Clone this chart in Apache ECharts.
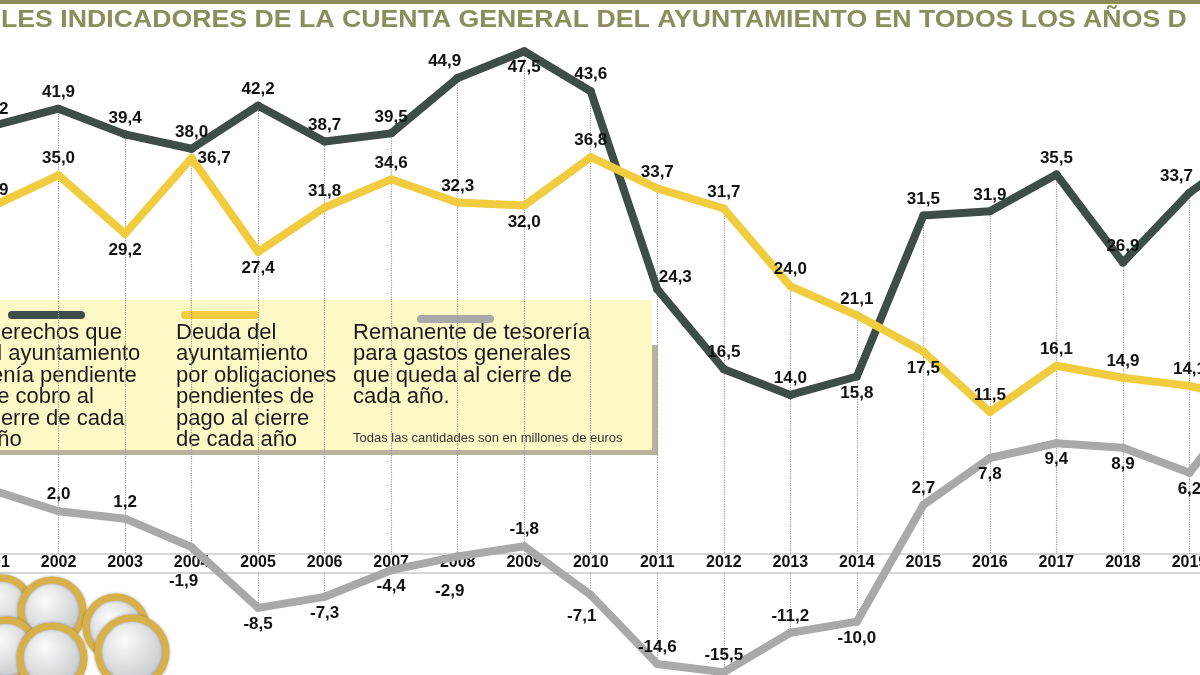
<!DOCTYPE html>
<html>
<head>
<meta charset="utf-8">
<script src="https://cdn.jsdelivr.net/npm/echarts@6/dist/echarts.min.js"></script>
<style>
  html, body { margin: 0; padding: 0; background: #fff; overflow: hidden; width: 1200px; height: 675px; }
  /* the picture is a crop: 2001 sits just left of the frame and 2020 just right of it */
  #chart { position: absolute; left: -8px; top: 0; width: 1264px; height: 675px; }
</style>
</head>
<body>
<div id="chart"></div>
<script>
// Data (millones de euros). 2001 and 2020 sit at the cropped edges.
const years = ["2001", "2002", "2003", "2004", "2005", "2006", "2007", "2008", "2009", "2010",
  "2011", "2012", "2013", "2014", "2015", "2016", "2017", "2018", "2019", "2020"];
const derechos = [40.2, 41.9, 39.4, 38.0, 42.2, 38.7, 39.5, 44.9, 47.5, 43.6,
  24.3, 16.5, 14.0, 15.8, 31.5, 31.9, 35.5, 26.9, 33.7, 38.5];
const deuda = [31.9, 35.0, 29.2, 36.7, 27.4, 31.8, 34.6, 32.3, 32.0, 36.8,
  33.7, 31.7, 24.0, 21.1, 17.5, 11.5, 16.1, 14.9, 14.1, 12.5];
const remanente = [4.3, 2.0, 1.2, -1.9, -8.5, -7.3, -4.4, -2.9, -1.8, -7.1,
  -14.6, -15.5, -11.2, -10.0, 2.7, 7.8, 9.4, 8.9, 6.2, 15.5];

// Where each value label sits relative to its point
const derechosLabels = ["t", "t", "t", "t", "t", "t", "t", "tl", "b", "t", "tr", "t", "t", "b", "t", "t", "t", "t", "tl", "t"];
const deudaLabels = ["t", "t", "b", "r", "b", "t", "t", "t", "b", "t", "t", "t", "t", "t", "b", "t", "t", "t", "t", "t"];
const remanenteLabels = ["l", "t", "t", "bb", "b", "b", "b", "bb", "t", "bl", "t", "t", "t", "b", "t", "b", "b", "b", "b", "t"];

const legendTexts = [
  "Derechos que\nel ayuntamiento\ntenía pendiente\nde cobro al\ncierre de cada\naño",
  "Deuda del\nayuntamiento\npor obligaciones\npendientes de\npago al cierre\nde cada año",
  "Remanente de tesorería\npara gastos generales\nque queda al cierre de\ncada año.",
];
const footnote = "Todas las cantidades son en millones de euros";
const title = "LES INDICADORES DE LA CUENTA GENERAL DEL AYUNTAMIENTO EN TODOS LOS AÑOS D";

const COLORS = { derechos: "#3e4d49", deuda: "#f0cc3e", remanente: "#a9a9a9" };
const OLIVE = "#8b8d5b";
const BAND_TOP = 554;
const BAND_H = 19;
const PAGE_SHIFT = 8; // chart div starts 8px left of the page
const FONT = "'Liberation Sans', Arial, sans-serif";

const chart = echarts.init(document.getElementById("chart"), null, { renderer: "canvas" });

function labelFor(code) {
  const base = { show: true, distance: 4 };
  switch (code) {
    case "b": return { ...base, position: "bottom" };
    case "bb": return { ...base, position: "bottom", offset: [-8, 18] };
    case "r": return { ...base, position: "right", distance: 2 };
    case "l": return { ...base, position: "left" };
    case "tl": return { ...base, position: "top", offset: [-13, 0] };
    case "tr": return { ...base, position: "top", offset: [18, 5] };
    case "bl": return { ...base, position: "bottom", offset: [-9, 5] };
    default: return { ...base, position: "top" };
  }
}

function lineSeries(name, values, labels, color, yAxisIndex, z) {
  return {
    name,
    type: "line",
    xAxisIndex: 0,
    yAxisIndex,
    z,
    data: values.map((v, i) => ({ value: v, label: labelFor(labels[i]) })),
    symbol: "circle",
    symbolSize: 8,
    showAllSymbol: true,
    itemStyle: { color },
    lineStyle: { color, width: 8, join: "round", cap: "round" },
    label: {
      color: "#111",
      fontFamily: FONT,
      fontWeight: "bold",
      fontSize: 17,
      formatter: (p) => p.value.toFixed(1).replace(".", ","),
    },
  };
}

function coin(cx, cy, r) {
  return {
    type: "circle",
    shape: { cx, cy, r },
    style: {
      fill: new echarts.graphic.RadialGradient(0.4, 0.35, 0.8, [
        { offset: 0, color: "#fbfbfb" },
        { offset: 1, color: "#b4b8bc" },
      ]),
      stroke: "#d8b04a",
      lineWidth: 7,
      shadowBlur: 3,
      shadowColor: "rgba(0,0,0,0.35)",
    },
  };
}

const legendText = (x, y, text) => ({
  type: "text",
  x,
  y,
  style: {
    text,
    fill: "#1b1b1b",
    font: "22px " + FONT,
    lineHeight: 21.5,
    verticalAlign: "top",
  },
});

const legendSample = (x1, x2, y, color) => ({
  type: "line",
  shape: { x1, y1: y, x2, y2: y },
  style: { stroke: color, lineWidth: 8, lineCap: "round" },
});

const option = {
  animation: false,
  backgroundColor: "#fff",
  grid: [
    { left: 0, right: 0, top: 0, bottom: 0, outerBoundsMode: "none" },
    {
      left: 0, right: 0, top: BAND_TOP, height: BAND_H, outerBoundsMode: "none",
      show: true, backgroundColor: "#fff", borderColor: "#c9c9c9", borderWidth: 1.5,
    },
  ],
  xAxis: [
    { type: "category", gridIndex: 0, data: years, boundaryGap: false, show: false },
    {
      type: "category", gridIndex: 1, data: years, boundaryGap: false,
      axisLine: { show: false }, axisTick: { show: false }, splitLine: { show: false },
      axisLabel: {
        inside: true, margin: 10, verticalAlign: "middle", interval: 0,
        color: "#111", fontFamily: FONT, fontWeight: "bold", fontSize: 16,
      },
    },
  ],
  yAxis: [
    { type: "value", gridIndex: 0, min: -13.3, max: 52.5, show: false },
    { type: "value", gridIndex: 0, min: -14.6, max: 52.4, show: false },
    { type: "value", gridIndex: 0, min: -15.8, max: 57.6, show: false },
    { type: "value", gridIndex: 1, show: false },
  ],
  series: [
    {
      id: "guides",
      type: "line",
      xAxisIndex: 0,
      yAxisIndex: 0,
      z: 1,
      data: [],
      markLine: {
        silent: true,
        symbol: ["none", "none"],
        label: { show: false },
        lineStyle: { type: "dotted", color: "#9a9a9a", width: 1.2 },
        data: [],
      },
    },
    lineSeries("Remanente de tesorería", remanente, remanenteLabels, COLORS.remanente, 2, 5),
    lineSeries("Derechos pendientes de cobro", derechos, derechosLabels, COLORS.derechos, 0, 6),
    lineSeries("Deuda por obligaciones pendientes", deuda, deudaLabels, COLORS.deuda, 1, 7),
  ],
  graphic: [
    {
      type: "group",
      x: PAGE_SHIFT,
      z: 3,
      children: [
        // top rule and title
        { type: "rect", shape: { x: 0, y: 0, width: 1200, height: 4 }, style: { fill: OLIVE } },
        {
          type: "text", x: 1, y: 21, scaleX: 1.16,
          style: { text: title, fill: OLIVE, font: "bold 23px " + FONT, verticalAlign: "middle" },
        },
        // legend box
        { type: "rect", shape: { x: -10, y: 345, width: 668, height: 110 }, style: { fill: "#bab39c" } },
        { type: "rect", shape: { x: -10, y: 300, width: 662, height: 150 }, style: { fill: "#fcf9c7" } },
        legendSample(12, 81, 315, COLORS.derechos),
        legendSample(185, 255, 315, COLORS.deuda),
        legendSample(421, 490, 319, COLORS.remanente),
        legendText(-15, 322, legendTexts[0]),
        legendText(176, 322, legendTexts[1]),
        legendText(353, 322, legendTexts[2]),
        {
          type: "text", x: 353, y: 438,
          style: { text: footnote, fill: "#333", font: "13px " + FONT, verticalAlign: "middle" },
        },
        // coins
        coin(2, 606, 28),
        coin(52, 611, 31),
        coin(116, 627, 30),
        coin(6, 650, 30),
        coin(52, 658, 32),
        coin(132, 652, 34),
      ],
    },
  ],
};

chart.setOption(option);

// Dotted drop lines: from the upper series down to the year band, and from the band down to negative remanente points
function guideSegments() {
  const segs = [];
  years.forEach((year, i) => {
    const x = chart.convertToPixel({ xAxisIndex: 0 }, year);
    const top = Math.min(
      chart.convertToPixel({ yAxisIndex: 0 }, derechos[i]),
      chart.convertToPixel({ yAxisIndex: 1 }, deuda[i])
    );
    segs.push([{ x, y: top }, { x, y: BAND_TOP }]);
    const low = chart.convertToPixel({ yAxisIndex: 2 }, remanente[i]);
    if (low > BAND_TOP + BAND_H) segs.push([{ x, y: BAND_TOP + BAND_H }, { x, y: low }]);
  });
  return segs;
}

chart.setOption({ series: [{ id: "guides", markLine: { data: guideSegments() } }] });
</script>
</body>
</html>
